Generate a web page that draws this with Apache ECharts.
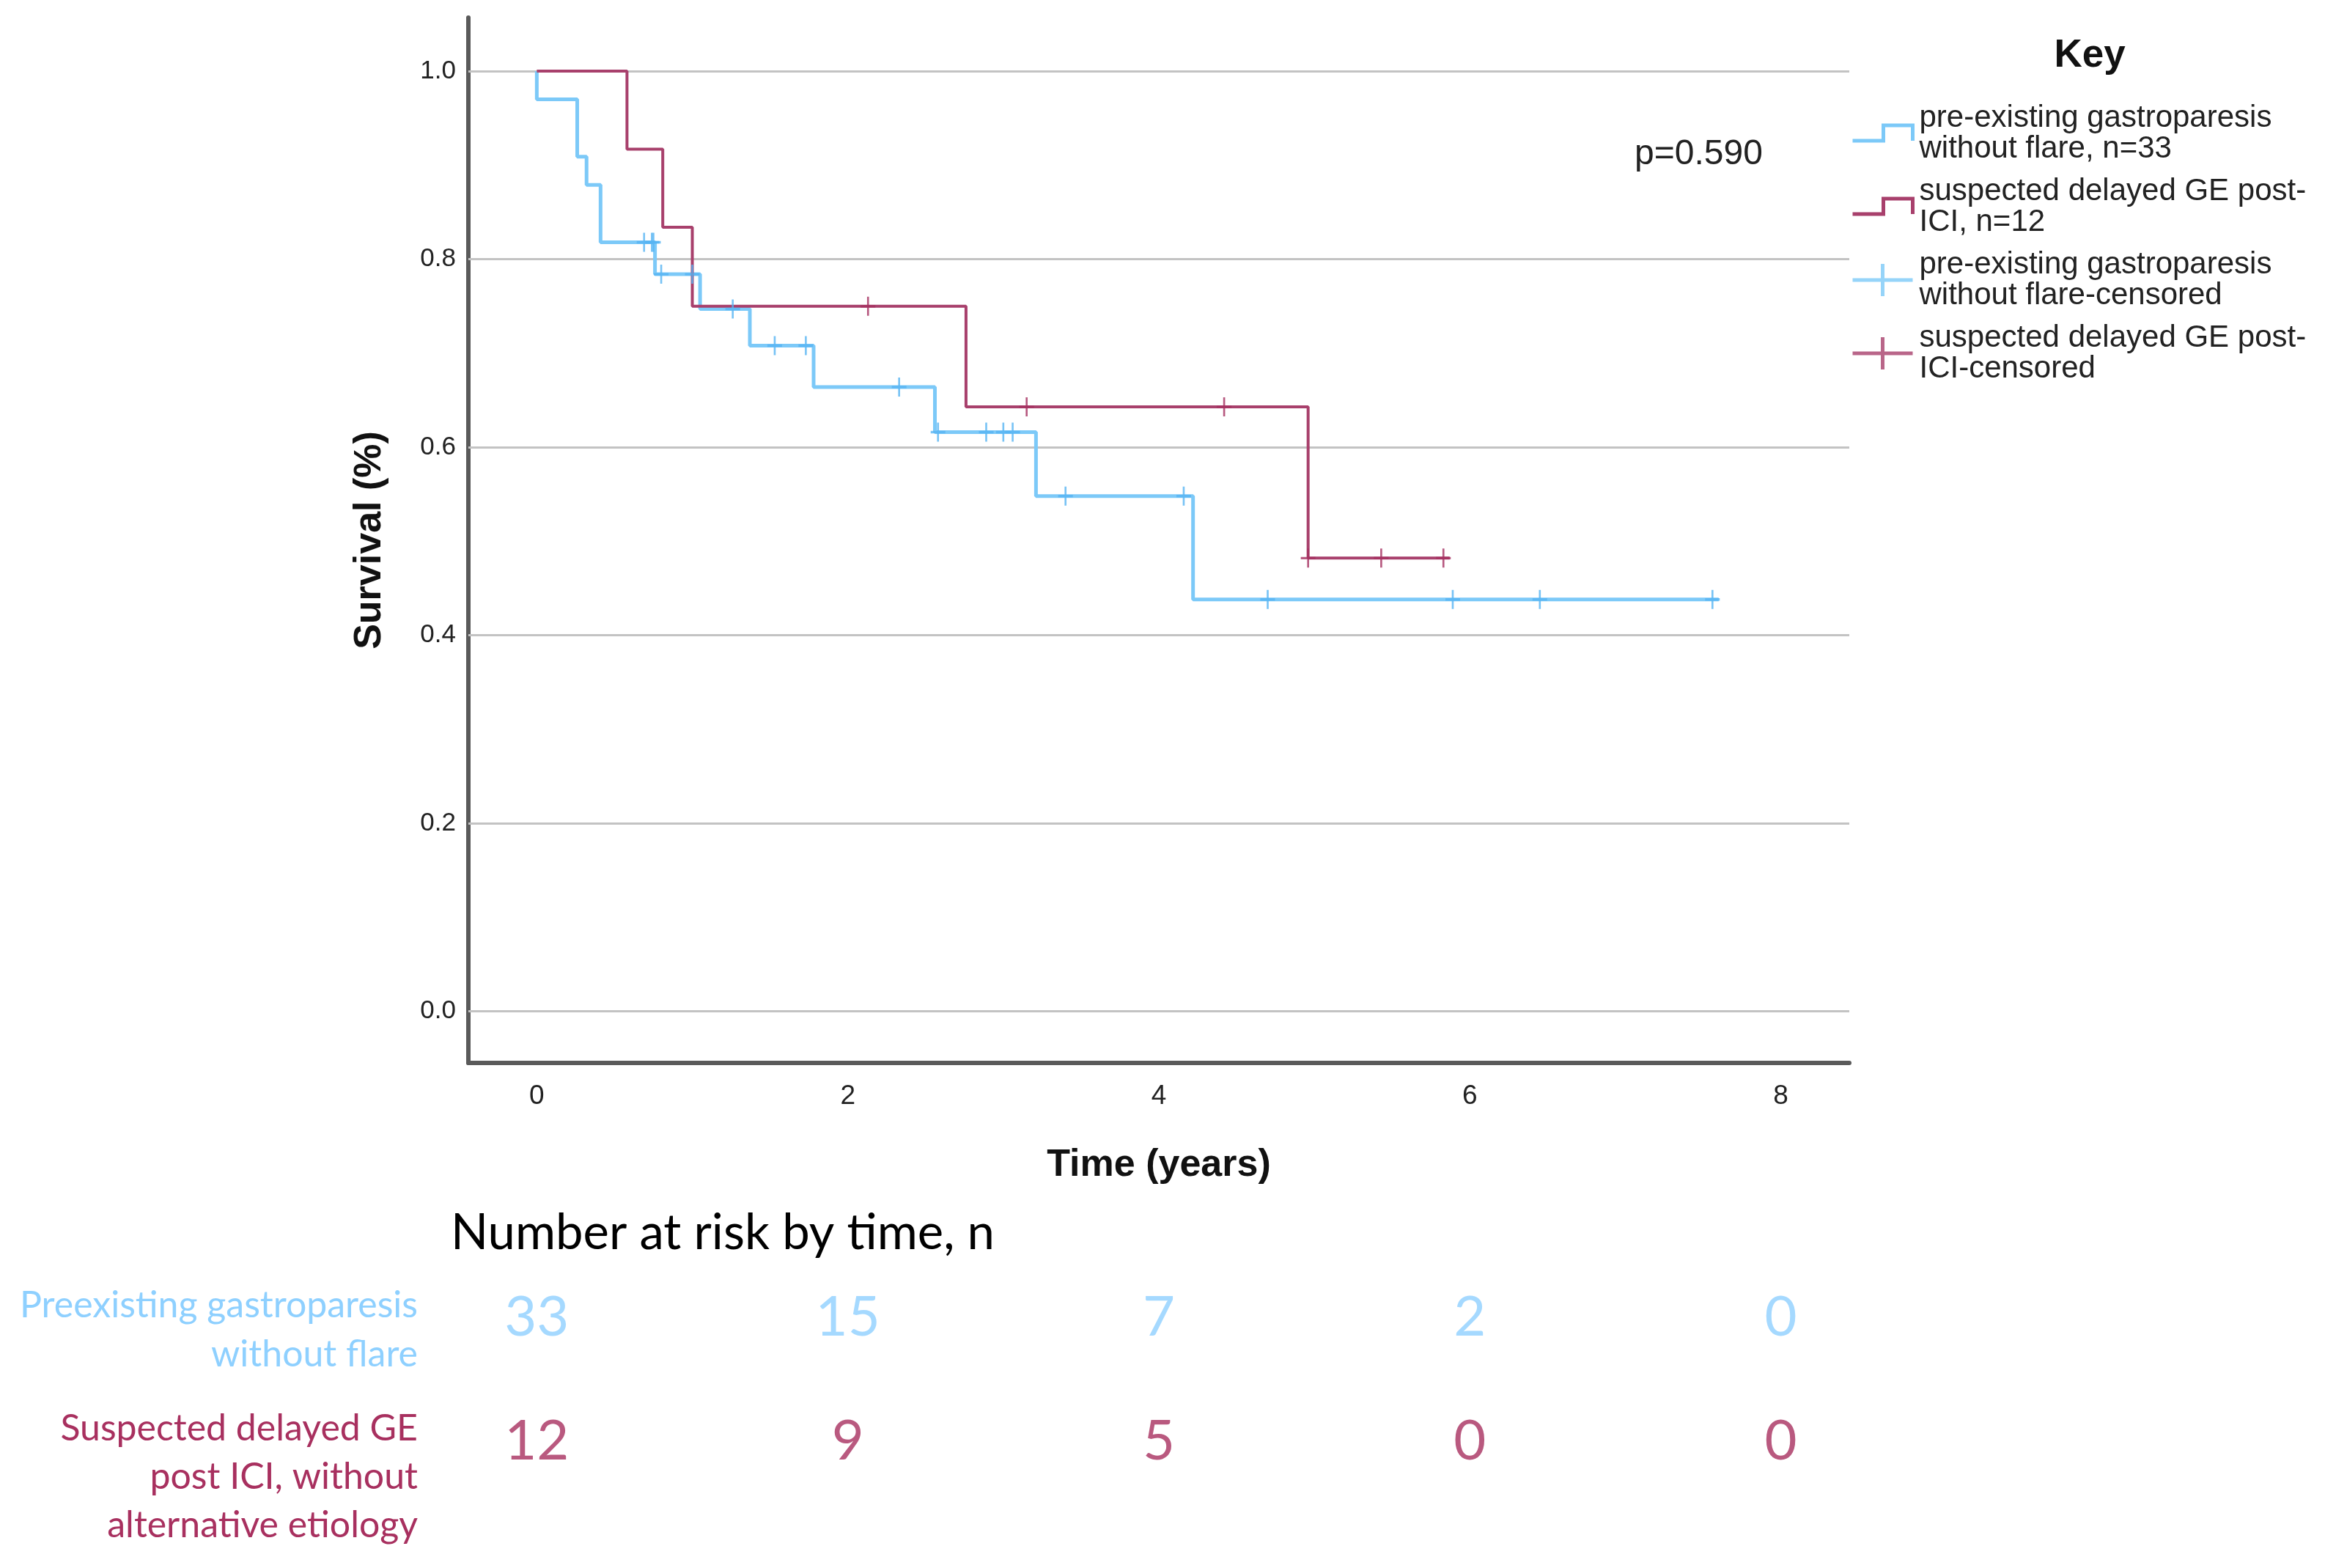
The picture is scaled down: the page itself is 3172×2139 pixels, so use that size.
<!DOCTYPE html>
<html><head><meta charset="utf-8">
<script src="https://cdn.jsdelivr.net/npm/echarts@6/dist/echarts.min.js"></script>
<style>html,body{margin:0;padding:0;background:#fff}#c{width:3172px;height:2139px}</style>
</head><body><div id="c"></div>
<script>
// ---- data ----
const nameBlue = 'pre-existing gastroparesis\nwithout flare, n=33';
const nameRed = 'suspected delayed GE post-\nICI, n=12';
const nameBlueCens = 'pre-existing gastroparesis\nwithout flare-censored';
const nameRedCens = 'suspected delayed GE post-\nICI-censored';

// Kaplan-Meier step points [time (years), survival]
const blueSteps = [[0,1.0],[0,0.970],[0.26,0.909],[0.32,0.879],[0.41,0.818],[0.76,0.784],[1.05,0.747],[1.37,0.708],[1.78,0.664],[2.56,0.616],[3.21,0.548],[4.22,0.438],[7.60,0.438]];
const redSteps = [[0,1.0],[0.58,0.917],[0.81,0.834],[1.00,0.750],[2.76,0.643],[4.96,0.482],[5.87,0.482]];
// censored observations
const blueCensored = [[0.69,0.818],[0.74,0.818],[0.75,0.818],[0.80,0.784],[1.00,0.784],[1.26,0.747],[1.53,0.708],[1.73,0.708],[2.33,0.664],[2.58,0.616],[2.89,0.616],[3.00,0.616],[3.06,0.616],[3.40,0.548],[4.16,0.548],[4.70,0.438],[5.89,0.438],[6.45,0.438],[7.56,0.438]];
const redCensored = [[2.13,0.750],[3.15,0.643],[4.42,0.643],[4.96,0.482],[5.43,0.482],[5.83,0.482]];

const xTicks = [0,2,4,6,8];
const yTicks = [0,0.2,0.4,0.6,0.8,1.0];

// number at risk table
const riskTimes = [0,2,4,6,8];
const riskBlue = [33,15,7,2,0];
const riskRed = [12,9,5,0,0];
const riskRows = ['Preexisting gastroparesis\nwithout flare','Suspected delayed GE\npost ICI, without\nalternative etiology'];
const riskTitle = 'Number at risk by time, n';
const pValueText = 'p=0.590';
const keyTitle = 'Key';

// ---- style ----
const blueLine = '#7cc9f8';
const blueMark = '#56b4f2';
const redLine = '#a8406c';
const redMark = '#a52f60';
const blueText = '#8ed0ff';
const redText = '#a8305f';
const axisFont = 'Liberation Sans';
const tableFont = 'Lato';

const censorSymbol = 'path://M0,0L0,26M-10,13L10,13';
const stepIcon = 'path://M0,0M82,44M0,32L42,32L42,11L82,11L82,32';
const crossIcon = 'path://M0,22L82,22M41,0L41,44';

const chart = echarts.init(document.getElementById('c'), null, {renderer:'canvas'});

const option = {
  backgroundColor: '#ffffff',
  animation: false,
  grid: [
    {left: 639, top: 24, width: 1884, height: 1426},
    {left: 639, top: 1712.5, width: 1884, height: 338}
  ],
  xAxis: [
    {
      type: 'value', gridIndex: 0, min: -0.44, max: 8.44,
      name: 'Time (years)', nameLocation: 'middle', nameGap: 114,
      nameTextStyle: {fontFamily: axisFont, fontWeight: 'bold', fontSize: 52, color: '#111'},
      axisLine: {show: true, onZero: false, lineStyle: {color: '#5a5a5a', width: 6}},
      axisTick: {show: false},
      splitLine: {show: false},
      axisLabel: {customValues: xTicks, fontFamily: axisFont, fontSize: 37, color: '#222', margin: 27, formatter: v => String(v)}
    },
    {type: 'value', gridIndex: 1, min: -0.44, max: 8.44, show: false}
  ],
  yAxis: [
    {
      type: 'value', gridIndex: 0, min: -0.055, max: 1.057,
      name: 'Survival (%)', nameLocation: 'middle', nameGap: 108,
      nameTextStyle: {fontFamily: axisFont, fontWeight: 'bold', fontSize: 52, color: '#111'},
      axisLine: {show: true, onZero: false, lineStyle: {color: '#5a5a5a', width: 6}},
      axisTick: {show: false},
      splitLine: {show: false},
      axisLabel: {customValues: yTicks, fontFamily: axisFont, fontSize: 35, color: '#222', margin: 17, formatter: v => v.toFixed(1)}
    },
    {type: 'category', gridIndex: 1, data: ['blue','red'], inverse: true, show: false}
  ],
  legend: {
    orient: 'vertical', left: 2525, top: 140, padding: 0,
    itemWidth: 82, itemHeight: 44, itemGap: 16, symbolKeepAspect: false,
    selectedMode: false,
    textStyle: {fontFamily: axisFont, fontSize: 42, lineHeight: 42, color: '#222', padding: [0,0,0,4]},
    data: [
      {name: nameBlue, icon: stepIcon, itemStyle: {color: 'none', borderColor: blueLine, borderWidth: 5}},
      {name: nameRed, icon: stepIcon, itemStyle: {color: 'none', borderColor: redLine, borderWidth: 5}},
      {name: nameBlueCens, icon: crossIcon, itemStyle: {color: 'none', borderColor: blueLine, borderWidth: 5}},
      {name: nameRedCens, icon: crossIcon, itemStyle: {color: 'none', borderColor: redLine, borderWidth: 5}}
    ]
  },
  graphic: [
    {type: 'text', x: 2851, y: 76, style: {text: keyTitle, align: 'center', verticalAlign: 'middle', fontFamily: axisFont, fontWeight: 'bold', fontSize: 53, fill: '#111'}},
    {type: 'text', x: 2230, y: 211, style: {text: pValueText, align: 'left', verticalAlign: 'middle', fontFamily: axisFont, fontSize: 48, fill: '#222'}},
    {type: 'text', x: 615, y: 1682, style: {text: riskTitle, align: 'left', verticalAlign: 'middle', fontFamily: tableFont, fontSize: 67, fill: '#000'}},
    {type: 'text', x: 570, y: 1814, style: {text: riskRows[0], align: 'right', verticalAlign: 'middle', fontFamily: tableFont, fontSize: 50, lineHeight: 67, fill: blueText}},
    {type: 'text', x: 570, y: 2015, style: {text: riskRows[1], align: 'right', verticalAlign: 'middle', fontFamily: tableFont, fontSize: 50, lineHeight: 66, fill: redText}}
  ],
  series: [
    {
      name: nameBlue, type: 'line', xAxisIndex: 0, yAxisIndex: 0, step: 'end', symbol: 'none',
      data: blueSteps, lineStyle: {color: blueLine, width: 5}, itemStyle: {color: blueLine}, silent: true, z: 3,
      markLine: {
        silent: true, symbol: 'none', label: {show: false}, z: 1,
        lineStyle: {color: '#c3c3c3', width: 3, type: 'solid'},
        data: yTicks.map(v => ({yAxis: v}))
      }
    },
    {
      name: nameRed, type: 'line', xAxisIndex: 0, yAxisIndex: 0, step: 'end', symbol: 'none',
      data: redSteps, lineStyle: {color: redLine, width: 4}, itemStyle: {color: redLine}, silent: true, z: 4
    },
    {
      name: nameBlueCens, type: 'scatter', xAxisIndex: 0, yAxisIndex: 0, data: blueCensored,
      symbol: censorSymbol, symbolSize: [20, 26], symbolKeepAspect: false,
      itemStyle: {color: 'none', borderColor: blueMark, borderWidth: 3}, silent: true, z: 5
    },
    {
      name: nameRedCens, type: 'scatter', xAxisIndex: 0, yAxisIndex: 0, data: redCensored,
      symbol: censorSymbol, symbolSize: [20, 26], symbolKeepAspect: false,
      itemStyle: {color: 'none', borderColor: redMark, borderWidth: 3}, silent: true, z: 6
    },
    {
      name: 'risk-blue', type: 'scatter', xAxisIndex: 1, yAxisIndex: 1,
      data: riskTimes.map((t, i) => [t, 'blue', riskBlue[i]]),
      symbolSize: 1, itemStyle: {color: 'rgba(0,0,0,0)'}, silent: true,
      label: {show: true, position: 'inside', formatter: p => String(p.value[2]), fontFamily: tableFont, fontSize: 76, color: blueText}
    },
    {
      name: 'risk-red', type: 'scatter', xAxisIndex: 1, yAxisIndex: 1,
      data: riskTimes.map((t, i) => [t, 'red', riskRed[i]]),
      symbolSize: 1, itemStyle: {color: 'rgba(0,0,0,0)'}, silent: true,
      label: {show: true, position: 'inside', formatter: p => String(p.value[2]), fontFamily: tableFont, fontSize: 76, color: redText}
    }
  ]
};
chart.setOption(option);
</script>
</body></html>
